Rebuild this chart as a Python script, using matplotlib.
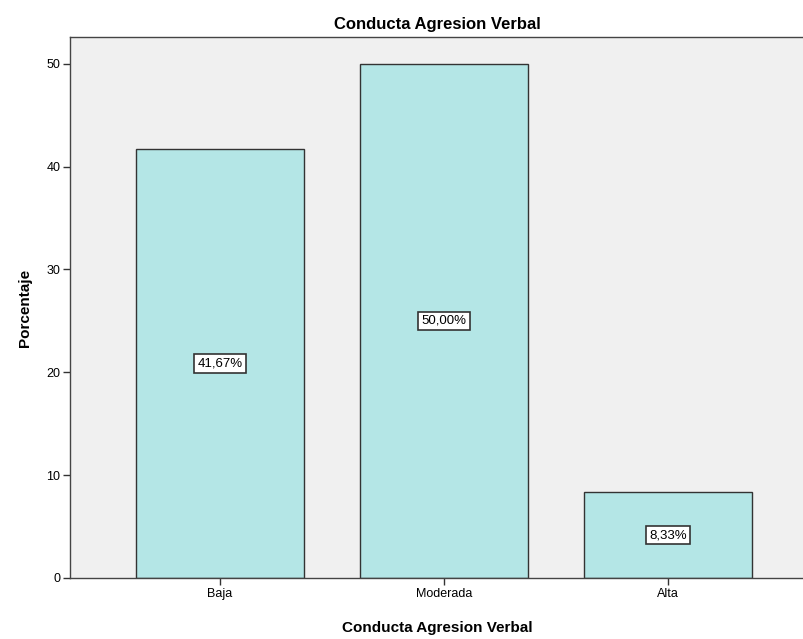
import matplotlib
matplotlib.use("Agg")
import matplotlib.pyplot as plt

categories = ["Baja", "Moderada", "Alta"]
values = [41.67, 50.00, 8.33]
labels = ["41,67%", "50,00%", "8,33%"]
yticks = [0, 10, 20, 30, 40, 50]

plt.rcParams['font.family'] = ['Liberation Sans', 'DejaVu Sans']

fig = plt.figure(figsize=(8.04, 6.39), dpi=100)
ax = fig.add_axes([70/804, 61/639, 734/804, 541/639])
ax.set_facecolor("#F0F0F0")

x = list(range(len(categories)))
ax.bar(x, values, width=0.75, color="#B4E6E6", edgecolor="#333333", linewidth=1.0, zorder=2)
for xi, v, lab in zip(x, values, labels):
    ax.text(xi, v / 2, lab, ha="center", va="center", fontsize=9.5, zorder=3,
            bbox=dict(boxstyle="square,pad=0.25", facecolor="white", edgecolor="#333333", linewidth=1.2))

ax.set_xlim(-0.67, 2.607)
ax.set_ylim(0, 52.6)
ax.set_xticks(x)
ax.set_xticklabels(categories, fontsize=9)
ax.set_yticks(yticks)
ax.set_yticklabels([str(t) for t in yticks], fontsize=9)
ax.tick_params(axis='both', length=5, width=1, color="#333333", pad=2)

for s in ["left", "bottom", "top"]:
    ax.spines[s].set_color("#444444")
    ax.spines[s].set_linewidth(1.0)
ax.spines["right"].set_visible(False)

ax.set_title("Conducta Agresion Verbal", fontsize=12, fontweight="bold", pad=6)
ax.set_xlabel("Conducta Agresion Verbal", fontsize=11, fontweight="bold", labelpad=15)
ax.set_ylabel("Porcentaje", fontsize=11, fontweight="bold", labelpad=10)

fig.savefig("out.png", dpi=100)
